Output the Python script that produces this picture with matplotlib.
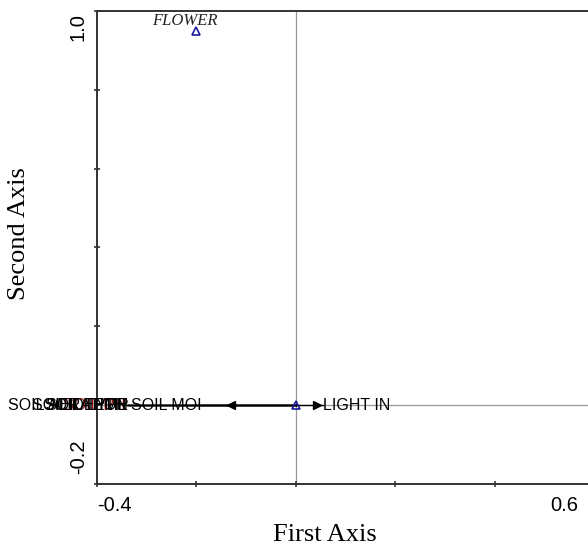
import matplotlib
matplotlib.use('Agg')
import matplotlib.pyplot as plt
import matplotlib.transforms as mtrans
import numpy as np

# sample scores
site_x = [-0.2, 0.0]
site_y = [0.95, 0.0]
site_names = ['FLOWER', '']

# environmental arrows (tips)
env_names = ['LIGHT IN', 'SOIL MOI', 'SOIL PH', 'SOIL AERATION', 'SOIL TEMP', 'SOIL DEPTH', 'SOIL TYPE']
env_x = [0.054, -0.19, -0.342, -0.338, -0.336, -0.34, -0.338]
env_y = [0.0, 0.0, 0.0, 0.0, 0.0, 0.0, 0.0]
env_colors = ['black', 'black', '#a01010', 'black', 'black', 'black', 'black']

# visible arrow heads
head_x = [0.043, -0.13]
head_marker = ['>', '<']

x_ticks = [-0.4, -0.2, 0.0, 0.2, 0.4, 0.6]
x_labels = ['-0.4', '', '', '', '', '0.6']
y_ticks = [-0.2, 0.0, 0.2, 0.4, 0.6, 0.8, 1.0]
y_labels = ['-0.2', '', '', '', '', '', '1.0']

fig = plt.figure(figsize=(5.88, 5.46), dpi=100)
ax = fig.add_axes([97/588, 62/546, 497/588, 473/546])
ax.set_xlim(-0.4, 0.6)
ax.set_ylim(-0.2, 1.0)

# zero lines
ax.axvline(0, color='#999999', lw=0.9, zorder=1)
ax.axhline(0, color='#999999', lw=0.9, zorder=1)

# arrows
for name, x, y, c in zip(env_names, env_x, env_y, env_colors):
    ax.plot([0, x], [0, y], color='black', lw=1, zorder=2)
    z = 2.5 if c != 'black' else 3
    if x > 0:
        ax.text(x, y, name, ha='left', va='center', fontsize=11.5, color=c,
                family='Liberation Sans', clip_on=False, zorder=z)
    else:
        ax.text(x, y, name, ha='right', va='center', fontsize=11.5, color=c,
                family='Liberation Sans', clip_on=False, zorder=z)
for hx, m in zip(head_x, head_marker):
    ax.plot(hx, 0, marker=m, color='black', markersize=6, zorder=3)

# samples
ax.plot(site_x, site_y, linestyle='none', marker='^', markersize=6,
        markerfacecolor='none', markeredgecolor='#1a1a9a', markeredgewidth=1.2, zorder=4)
for name, x, y in zip(site_names, site_x, site_y):
    if name:
        ax.annotate(name, (x, y), xytext=(-8, 7), textcoords='offset points',
                    ha='center', va='center', fontsize=12, style='italic',
                    family='Liberation Serif', color='#222222')

# axes styling
ax.spines['right'].set_visible(False)
for s in ['top', 'left', 'bottom']:
    ax.spines[s].set_color('#333333')
    ax.spines[s].set_linewidth(1.4)

ax.set_xticks(x_ticks)
ax.set_xticklabels(x_labels, fontsize=14.5, family='Liberation Sans')
ax.set_yticks(y_ticks)
ax.set_yticklabels(y_labels, fontsize=14.5, family='Liberation Sans', rotation=90, va='center')
ax.tick_params(axis='both', direction='inout', length=5, width=1.2, color='#333333')
ax.tick_params(axis='x', pad=6)
ax.tick_params(axis='y', pad=4)

xl = ax.get_xticklabels()
xl[0].set_ha('left')
xl[-1].set_ha('right')
xl[-1].set_transform(xl[-1].get_transform() + mtrans.ScaledTranslation(-16/100, 0, fig.dpi_scale_trans))
yl = ax.get_yticklabels()
yl[0].set_va('bottom')
yl[0].set_transform(yl[0].get_transform() + mtrans.ScaledTranslation(0, 10/100, fig.dpi_scale_trans))
yl[-1].set_va('top')
yl[-1].set_transform(yl[-1].get_transform() + mtrans.ScaledTranslation(0, -2/100, fig.dpi_scale_trans))

ax.set_xlabel('First Axis', fontsize=19, family='Liberation Serif')
ax.set_ylabel('Second Axis', fontsize=19, family='Liberation Serif')
ax.xaxis.set_label_coords((325 - 97) / 497, -0.085)
ax.yaxis.set_label_coords(-(97 - 30) / 497, 0.53)

fig.savefig('out.png', dpi=100)
